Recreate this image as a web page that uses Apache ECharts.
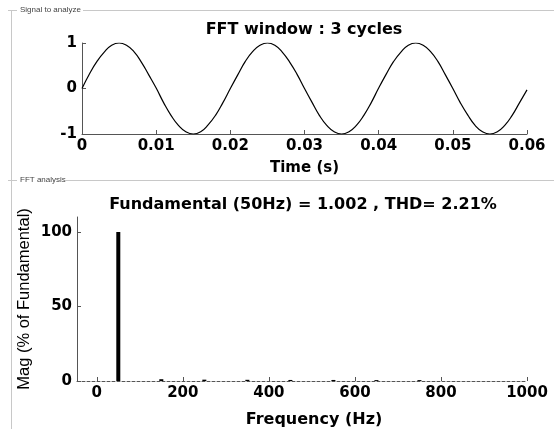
<!DOCTYPE html>
<html><head><meta charset="utf-8">
<script src="https://cdn.jsdelivr.net/npm/echarts@6/dist/echarts.min.js"></script>
<style>html,body{margin:0;padding:0;background:#fff}#c{width:554px;height:429px}</style>
</head><body><div id="c"></div>
<script>
// Signal (time in s, sampled every 1 ms)
const timeStep = 0.001;
const signalValues = [
  0.00, 0.32, 0.59, 0.80, 0.95, 1.00, 0.95, 0.81, 0.58, 0.30,
  0.01, -0.31, -0.59, -0.81, -0.95, -1.00, -0.95, -0.80, -0.59, -0.31,
  0.00, 0.30, 0.59, 0.81, 0.95, 1.00, 0.95, 0.80, 0.58, 0.31,
  0.00, -0.30, -0.59, -0.81, -0.95, -1.00, -0.95, -0.81, -0.59, -0.31,
  0.01, 0.31, 0.59, 0.80, 0.95, 1.00, 0.95, 0.81, 0.59, 0.30,
  0.00, -0.31, -0.58, -0.81, -0.95, -1.00, -0.95, -0.81, -0.59, -0.31,
  -0.03
];
// FFT spectrum
const freqHz = [50, 150, 250, 350, 450, 550, 650, 750];
const magPct = [100, 1.2, 0.9, 0.8, 0.7, 0.7, 0.6, 0.6];
const timeTicks = [0, 0.01, 0.02, 0.03, 0.04, 0.05, 0.06];
const freqTicks = [0, 200, 400, 600, 800, 1000];
const magTicks = [0, 50, 100];
const titleTop = 'FFT window : 3 cycles';
const titleBottom = 'Fundamental (50Hz) = 1.002 , THD= 2.21%';

const FONT = 'DejaVu Sans, sans-serif';
const FONT2 = 'Liberation Sans, Arial, sans-serif';
const signalData = signalValues.map((v, i) => [+(i * timeStep).toFixed(3), v]);
const fftData = freqHz.map((f, i) => [f, magPct[i]]);

const chart = echarts.init(document.getElementById('c'), null, {renderer: 'canvas'});
const lbl = {color: '#000', fontFamily: FONT, fontWeight: 'bold', fontSize: 15, margin: 5};
const tick = {show: true, inside: true, length: 4, lineStyle: {color: '#555'}};
const line = {show: true, onZero: false, lineStyle: {color: '#555', width: 1}};
chart.setOption({
  animation: false,
  backgroundColor: '#fff',
  title: [
    {text: titleTop, left: 299, top: 17, textAlign: 'center',
     textStyle: {fontFamily: FONT, fontWeight: 'bold', fontSize: 16, color: '#000'}},
    {text: titleBottom, left: 298, top: 192, textAlign: 'center',
     textStyle: {fontFamily: FONT, fontWeight: 'bold', fontSize: 16, color: '#000'}}
  ],
  grid: [
    {left: 82, right: 27, top: 43, height: 91},
    {left: 77, right: 27, top: 217, height: 167}
  ],
  xAxis: [
    {
      gridIndex: 0, type: 'value', min: 0, max: 0.06,
      name: 'Time (s)', nameLocation: 'middle', nameGap: 27, nameMoveOverlap: false,
      nameTextStyle: {fontFamily: FONT, fontWeight: 'bold', fontSize: 15, color: '#000'},
      axisLine: line, splitLine: {show: false},
      axisTick: Object.assign({}, tick, {customValues: timeTicks}),
      axisLabel: Object.assign({}, lbl, {customValues: timeTicks,
        formatter: v => v === 0 ? '0' : v.toFixed(2)})
    },
    {
      gridIndex: 1, type: 'value', min: -46, max: 1000,
      name: 'Frequency (Hz)', nameLocation: 'middle', nameGap: 31, nameMoveOverlap: false,
      nameTextStyle: {fontFamily: FONT, fontWeight: 'bold', fontSize: 16, color: '#000', padding: [0, 0, 0, 24]},
      axisLine: {show: true, onZero: false, lineStyle: {color: '#555', width: 1, type: [3, 2]}},
      splitLine: {show: false},
      axisTick: Object.assign({}, tick, {customValues: freqTicks}),
      axisLabel: Object.assign({}, lbl, {customValues: freqTicks, formatter: v => String(v)})
    }
  ],
  yAxis: [
    {
      gridIndex: 0, type: 'value', min: -1, max: 1, interval: 1,
      axisLine: line, splitLine: {show: false}, axisTick: tick, axisLabel: lbl
    },
    {
      gridIndex: 1, type: 'value', min: 0, max: 110,
      name: 'Mag (% of Fundamental)', nameLocation: 'middle', nameGap: 44, nameRotate: 90,
      nameMoveOverlap: false,
      nameTextStyle: {fontFamily: FONT2, fontWeight: 'normal', fontSize: 16.5, color: '#000'},
      axisLine: line, splitLine: {show: false},
      axisTick: Object.assign({}, tick, {customValues: magTicks}),
      axisLabel: Object.assign({}, lbl, {customValues: magTicks})
    }
  ],
  series: [
    {type: 'line', xAxisIndex: 0, yAxisIndex: 0, data: signalData, smooth: true,
     showSymbol: false, lineStyle: {color: '#000', width: 1.2}},
    {type: 'bar', xAxisIndex: 1, yAxisIndex: 1, data: fftData, barWidth: 4,
     itemStyle: {color: '#000'}}
  ],
  graphic: [
    {type: 'line', shape: {x1: 8, y1: 10.5, x2: 17, y2: 10.5}, style: {stroke: '#c8c8c8', lineWidth: 1}},
    {type: 'line', shape: {x1: 83, y1: 10.5, x2: 554, y2: 10.5}, style: {stroke: '#c8c8c8', lineWidth: 1}},
    {type: 'text', left: 20, top: 6, style: {text: 'Signal to analyze', font: '8px ' + FONT2, fill: '#444'}},
    {type: 'line', shape: {x1: 8, y1: 180.5, x2: 17, y2: 180.5}, style: {stroke: '#c8c8c8', lineWidth: 1}},
    {type: 'line', shape: {x1: 66, y1: 180.5, x2: 554, y2: 180.5}, style: {stroke: '#c8c8c8', lineWidth: 1}},
    {type: 'text', left: 20, top: 176, style: {text: 'FFT analysis', font: '8px ' + FONT2, fill: '#444'}},
    {type: 'line', shape: {x1: 11.5, y1: 10, x2: 11.5, y2: 429}, style: {stroke: '#c8c8c8', lineWidth: 1}}
  ]
});
</script></body></html>
